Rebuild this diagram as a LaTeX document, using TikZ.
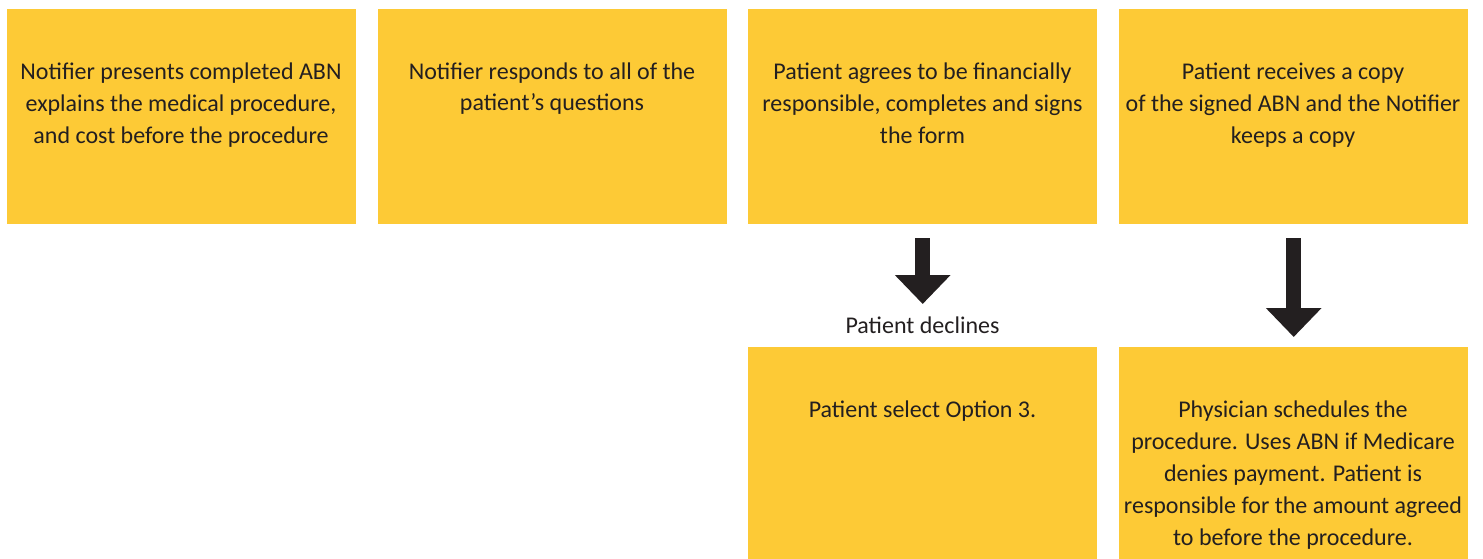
\documentclass[tikz,border=0pt]{standalone}
\usepackage{fontspec}
\setmainfont{Carlito}
\usetikzlibrary{arrows.meta}
\definecolor{boxyellow}{HTML}{FDCA36}
\definecolor{ink}{HTML}{231F20}
\begin{document}
\begin{tikzpicture}[x=1pt,y=-1pt,
  box/.style={fill=boxyellow, draw=none, minimum width=349pt, minimum height=215pt, inner sep=0pt, anchor=north west},
  txt/.style={text=ink, font=\fontsize{24pt}{32pt}\selectfont, align=center, inner sep=0pt, anchor=base},
  bigarrow/.style={draw=ink, line width=15pt, -{Triangle[length=29pt,width=54pt]}}]
\useasboundingbox (0,0) rectangle (1483,559);
\node[box] (b1) at (7,9) {};
\node[box] (b2) at (378,9) {};
\node[box] (b3) at (748,9) {};
\node[box] (b4) at (1119,9) {};
\node[box, minimum height=212pt] (b5) at (748,347) {};
\node[box, minimum height=212pt] (b6) at (1119,347) {};
\node[txt] (t1) at (181,143) {Notifier presents completed ABN\\explains the medical procedure,\\and cost before the procedure};
\node[txt] (t2) at (552,111) {Notifier responds to all of the\\patient’s questions};
\node[txt] (t3) at (922.5,143) {Patient agrees to be financially\\responsible, completes and signs\\the form};
\node[txt] (t4) at (1293,143) {Patient receives a copy\\of the signed ABN and the Notifier\\keeps a copy};
\node[txt] (t5) at (922.5,417) {Patient select Option 3.};
\node[txt] (t6) at (1293,545) {Physician schedules the\\procedure. Uses ABN if Medicare\\denies payment. Patient is\\responsible for the amount agreed\\to before the procedure.};
\node[txt] (lbl) at (922.5,333) {Patient declines};
\draw[bigarrow] ([yshift=-14pt]b3.south) -- ([yshift=43pt]b5.north);
\draw[bigarrow] ([yshift=-14pt]b4.south) -- ([yshift=10pt]b6.north);
\end{tikzpicture}
\end{document}
